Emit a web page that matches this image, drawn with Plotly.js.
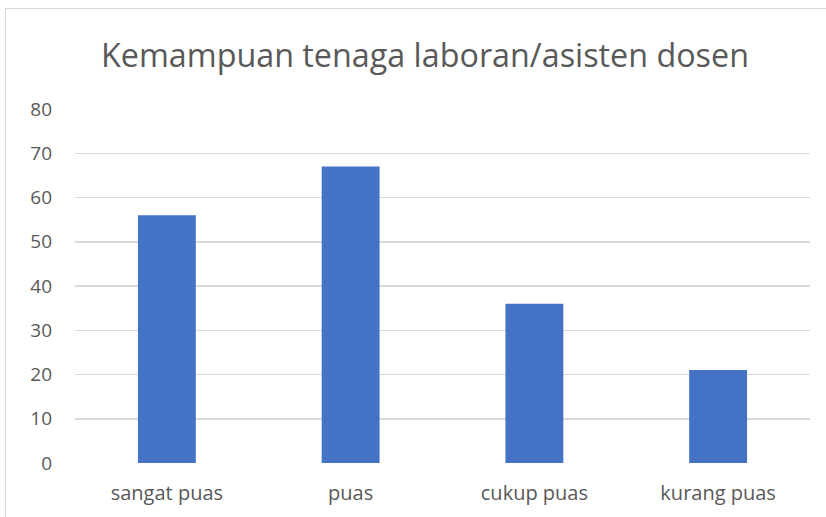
<!DOCTYPE html>
<html>
<head>
<meta charset="utf-8">
<script src="https://cdn.plot.ly/plotly-3.0.1.min.js"></script>
<style>
html,body{margin:0;padding:0;background:#fff;}
#chart{position:absolute;left:0;top:0;width:826px;height:517px;}
#frame{position:absolute;left:5px;top:8px;width:900px;height:600px;border:1.5px solid #d9d9d9;pointer-events:none;}
</style>
</head>
<body>
<div id="chart"></div>
<div id="frame"></div>
<script>
const categories = ["sangat puas", "puas", "cukup puas", "kurang puas"];
const values = [56, 67, 36, 21];
const yTicks = [0, 10, 20, 30, 40, 50, 60, 70, 80];
const chartTitle = "Kemampuan tenaga laboran/asisten dosen";

const font = "'Open Sans', sans-serif";
Plotly.newPlot("chart", [{
  type: "bar",
  x: categories,
  y: values,
  marker: {color: "#4472c4"},
  width: 0.315,
  hoverinfo: "x+y"
}], {
  width: 826, height: 517,
  margin: {l: 75, r: 16, t: 109, b: 54},
  paper_bgcolor: "rgba(0,0,0,0)",
  plot_bgcolor: "#fff",
  showlegend: false,
  title: {text: chartTitle, xref: "container", x: 0.5145, xanchor: "center", y: 0.893, yanchor: "middle",
          font: {family: font, size: 32.3, color: "#595959"}},
  xaxis: {showgrid: false, zeroline: false, showline: false, ticks: "", ticklabelstandoff: 16,
          tickfont: {family: font, size: 20, color: "#595959"}},
  yaxis: {range: [0, 80], tickvals: yTicks, showgrid: true, gridcolor: "#d9d9d9", gridwidth: 1.5,
          zeroline: false, showline: false, ticks: "", ticklabelstandoff: 22,
          tickfont: {family: font, size: 19, color: "#595959"}}
}, {displayModeBar: false, staticPlot: true});
</script>
</body>
</html>
